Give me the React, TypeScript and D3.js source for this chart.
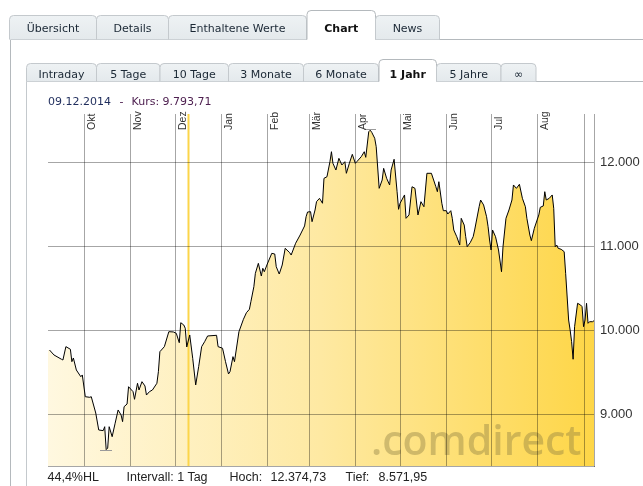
import React from "react";
import * as d3 from "d3";

// ---- data ----
const dates = [
  "2014-09-08","2014-09-11","2014-09-16","2014-09-17","2014-09-19","2014-09-22","2014-09-23","2014-09-24","2014-09-26","2014-09-29","2014-09-30",
  "2014-10-02","2014-10-05","2014-10-06","2014-10-09","2014-10-11","2014-10-14","2014-10-15","2014-10-16","2014-10-17","2014-10-18","2014-10-20",
  "2014-10-22","2014-10-24","2014-10-26","2014-10-27","2014-10-28","2014-10-30","2014-10-31",
  "2014-11-03","2014-11-04","2014-11-06","2014-11-07","2014-11-09","2014-11-11","2014-11-12","2014-11-14","2014-11-16","2014-11-19","2014-11-20",
  "2014-11-21","2014-11-24","2014-11-27","2014-11-30",
  "2014-12-02","2014-12-04","2014-12-05","2014-12-07","2014-12-08","2014-12-09","2014-12-11","2014-12-13","2014-12-15","2014-12-17","2014-12-19",
  "2014-12-21","2014-12-23","2014-12-29","2014-12-30",
  "2015-01-02","2015-01-04","2015-01-06","2015-01-07","2015-01-09","2015-01-10","2015-01-13","2015-01-16","2015-01-18","2015-01-20","2015-01-21",
  "2015-01-23","2015-01-24","2015-01-26","2015-01-28","2015-01-29","2015-01-30",
  "2015-02-01","2015-02-04","2015-02-06","2015-02-07","2015-02-09","2015-02-11","2015-02-13","2015-02-16","2015-02-17","2015-02-20","2015-02-23",
  "2015-02-26","2015-02-27","2015-02-28",
  "2015-03-02","2015-03-03","2015-03-05","2015-03-06","2015-03-08","2015-03-10","2015-03-11","2015-03-13","2015-03-15","2015-03-16","2015-03-17",
  "2015-03-19","2015-03-21","2015-03-23","2015-03-25","2015-03-26","2015-03-28","2015-03-30",
  "2015-04-01","2015-04-02","2015-04-05","2015-04-07","2015-04-08","2015-04-10","2015-04-11","2015-04-12","2015-04-14","2015-04-15","2015-04-17",
  "2015-04-19","2015-04-20","2015-04-22","2015-04-24","2015-04-25","2015-04-27","2015-04-29","2015-04-30",
  "2015-05-01","2015-05-04","2015-05-05","2015-05-07","2015-05-09","2015-05-11","2015-05-13","2015-05-15","2015-05-17","2015-05-18","2015-05-19",
  "2015-05-22","2015-05-25","2015-05-26","2015-05-27","2015-05-29","2015-05-30",
  "2015-06-01","2015-06-02","2015-06-04","2015-06-05","2015-06-06","2015-06-08","2015-06-10","2015-06-11","2015-06-13","2015-06-14","2015-06-15",
  "2015-06-17","2015-06-19","2015-06-20","2015-06-23","2015-06-24","2015-06-26","2015-06-28","2015-06-29","2015-06-30",
  "2015-07-01","2015-07-02","2015-07-04","2015-07-06","2015-07-08","2015-07-09","2015-07-11","2015-07-13","2015-07-15","2015-07-16","2015-07-18",
  "2015-07-20","2015-07-22","2015-07-24","2015-07-25","2015-07-27","2015-07-28","2015-07-30",
  "2015-08-02","2015-08-03","2015-08-05","2015-08-06","2015-08-07","2015-08-09","2015-08-11","2015-08-12","2015-08-13","2015-08-14","2015-08-15",
  "2015-08-17","2015-08-19","2015-08-20","2015-08-22","2015-08-23","2015-08-24","2015-08-25","2015-08-26","2015-08-28","2015-08-30","2015-08-31",
  "2015-09-01","2015-09-02","2015-09-03","2015-09-04","2015-09-05","2015-09-07","2015-09-08",
];
const closes = [
  9758, 9699, 9648, 9639, 9798, 9767, 9619, 9663, 9520, 9440, 9461,
  9202, 9195, 9202, 9008, 8806, 8798, 8845, 8572, 8590, 8845, 8726,
  8886, 9044, 8984, 8905, 9083, 9115, 9321,
  9262, 9171, 9362, 9282, 9381, 9330, 9222, 9262, 9282, 9362, 9500,
  9738, 9798, 9976, 9973,
  9957, 9845, 10083, 10056, 10017, 9794, 9937, 9659, 9342, 9560, 9798,
  9857, 9925, 9933, 9798,
  9779, 9619, 9473, 9500, 9679, 9619, 9976, 10124, 10202, 10243, 10333,
  10512, 10671, 10790, 10639, 10731, 10690,
  10782, 10909, 10901, 10750, 10663, 10770, 10969, 10917, 10889, 11029, 11127,
  11235, 11345, 11401,
  11405, 11286, 11425, 11524, 11564, 11505, 11802, 11821, 12000, 12119, 11981,
  11901, 12040, 11961, 12000, 11862, 11981, 12088,
  11981, 12000, 12060, 12119, 12052, 12357, 12375, 12350, 12279, 12179, 11683,
  11782, 11921, 11802, 11723, 11901, 12029, 11643, 11433,
  11505, 11604, 11326, 11366, 11702, 11683, 11366, 11524, 11464, 11663, 11862,
  11862, 11702, 11643, 11762, 11505, 11417,
  11417, 11377, 11417, 11326, 11187, 11107, 11008, 11326, 11246, 11107, 10988,
  11036, 11107, 11187, 11464, 11544, 11485, 11345, 11226, 11068,
  10949, 11187, 11107, 10949, 10690, 10988, 11326, 11425, 11544, 11723, 11683,
  11731, 11564, 11464, 11326, 11127, 11060, 11207,
  11366, 11457, 11473, 11643, 11544, 11564, 11604, 11445, 10988, 11008, 10969,
  10957, 10929, 10671, 10115, 9996, 9857, 9648, 10036, 10314, 10294, 10274,
  10036, 10115, 10314, 10076, 10095, 10095, 10107,
];

const xDomain = ["2014-09-07", "2015-09-08"];
const yDomain = [8377, 12568];
const yTicks = [9000, 10000, 11000, 12000];
const yTickLabels = ["9.000", "10.000", "11.000", "12.000"];
const monthTicks = [
  "2014-10-01","2014-11-01","2014-12-01","2015-01-01","2015-02-01","2015-03-01",
  "2015-04-01","2015-05-01","2015-06-01","2015-07-01","2015-08-01","2015-09-01",
];
const monthLabels = ["Okt","Nov","Dez","Jan","Feb","Mär","Apr","Mai","Jun","Jul","Aug",""];

const crosshairDate = "2014-12-10";
const headerDate = "09.12.2014";
const headerKurs = "Kurs: 9.793,71";

const mainTabs = ["Übersicht", "Details", "Enthaltene Werte", "Chart", "News"];
const mainActive = 3;
const rangeTabs = ["Intraday", "5 Tage", "10 Tage", "3 Monate", "6 Monate", "1 Jahr", "5 Jahre", "∞"];
const rangeActive = 5;

const footerPerf = "44,4%HL";
const footerInterval = "Intervall: 1 Tag";
const footerHighLabel = "Hoch:";
const footerHigh = "12.374,73";
const footerLowLabel = "Tief:";
const footerLow = "8.571,95";
const watermark = ".comdirect";

// ---- layout / style ----
const W = 643;
const H = 486;
const plot = { left: 48, right: 594, top: 114, bottom: 466 };
const mainTabEdges = [9.5, 96.5, 168.5, 306.5, 375.5, 439.5];
const rangeTabEdges = [26.5, 96.5, 160, 228.5, 303.5, 378.5, 436.5, 501, 536];
const fillStops = ["#fff8e0", "#fee9a2", "#fed647"];
const GRID = "#a6a6a6";

const SANS = "'DejaVu Sans', Verdana, sans-serif";
const ARIAL = "'Liberation Sans', Arial, Helvetica, sans-serif";
const MULT = { mixBlendMode: "multiply" as const };

function tabPath(x0: number, x1: number, top: number, bottom: number, r = 4) {
  return `M${x0},${bottom} V${top + r} Q${x0},${top} ${x0 + r},${top} H${x1 - r} Q${x1},${top} ${x1},${top + r} V${bottom}`;
}

function Tabs({ labels, edges, active, top, activeTop, bottom, baseline, lineStart }: any) {
  const items: any[] = [];
  labels.forEach((lab: string, i: number) => {
    let x0 = edges[i];
    const x1 = edges[i + 1];
    if (i === active) x0 += 0.5;
    const isA = i === active;
    items.push(
      <g key={lab}>
        <path
          d={tabPath(x0, x1, isA ? activeTop : top, bottom)}
          fill={isA ? "#ffffff" : "url(#tabFill)"}
          stroke={isA ? "#b4b9bd" : "#c4c9cd"}
          strokeWidth={1}
        />
        <text
          x={(x0 + x1) / 2}
          y={baseline}
          textAnchor="middle"
          fontFamily={SANS}
          fontSize={11}
          fontWeight={isA ? "bold" : "normal"}
          fill={isA ? "#111111" : "#1a2734"}
        >
          {lab}
        </text>
      </g>
    );
  });
  const ax0 = edges[active] + 0.5;
  const ax1 = edges[active + 1];
  return (
    <g>
      <line x1={lineStart} x2={ax0} y1={bottom} y2={bottom} stroke="#b4b9bd" />
      <line x1={ax1} x2={W} y1={bottom} y2={bottom} stroke="#b4b9bd" />
      {items}
    </g>
  );
}

export default function App() {
  const parse = d3.utcParse("%Y-%m-%d");
  const data = dates.map((d, i) => ({ date: parse(d) as Date, value: closes[i] }));

  const x = d3
    .scaleUtc()
    .domain([parse(xDomain[0]) as Date, parse(xDomain[1]) as Date])
    .range([plot.left, plot.right]);
  const y = d3.scaleLinear().domain(yDomain).range([plot.bottom, plot.top]);

  const area = d3
    .area<{ date: Date; value: number }>()
    .x((d) => x(d.date))
    .y0(plot.bottom)
    .y1((d) => y(d.value));
  const line = d3
    .line<{ date: Date; value: number }>()
    .x((d) => x(d.date))
    .y((d) => y(d.value));

  const areaData = [{ date: x.domain()[0], value: data[0].value }, ...data];
  const areaD = area(areaData) || "";

  const minD = data.reduce((a, b) => (b.value < a.value ? b : a));
  const maxD = data.reduce((a, b) => (b.value > a.value ? b : a));

  const pxr = (v: number) => Math.round(v) + 0.5;
  const crossX = Math.round(x(parse(crosshairDate) as Date)) + 0.5;

  return (
    <svg
      width={W}
      height={H}
      viewBox={`0 0 ${W} ${H}`}
      style={{ position: "absolute", left: 0, top: 0, background: "#fff" }}
    >
      <defs>
        <linearGradient id="areaFill" x1={plot.left} x2={plot.right} y1={0} y2={0} gradientUnits="userSpaceOnUse">
          <stop offset="0" stopColor={fillStops[0]} />
          <stop offset="0.5" stopColor={fillStops[1]} />
          <stop offset="1" stopColor={fillStops[2]} />
        </linearGradient>
        <linearGradient id="tabFill" x1={0} x2={0} y1={0} y2={1}>
          <stop offset="0" stopColor="#eef2f4" />
          <stop offset="1" stopColor="#e4e9ec" />
        </linearGradient>
      </defs>
      <rect x={0} y={0} width={W} height={H} fill="#ffffff" />

      {/* container borders */}
      <line x1={10.5} x2={10.5} y1={39.5} y2={H} stroke="#b4b9bd" />
      <line x1={26.5} x2={26.5} y1={81.5} y2={H} stroke="#c4c9cd" />

      <Tabs
        labels={mainTabs}
        edges={mainTabEdges}
        active={mainActive}
        top={15.5}
        activeTop={10.5}
        bottom={39.5}
        baseline={31.5}
        lineStart={10.5}
      />
      <Tabs
        labels={rangeTabs}
        edges={rangeTabEdges}
        active={rangeActive}
        top={63.5}
        activeTop={59.5}
        bottom={81.5}
        baseline={77.5}
        lineStart={26.5}
      />

      {/* header */}
      <text x={48} y={105} fontFamily={SANS} fontSize={11} fill="#1f2d5c">
        {headerDate}
      </text>
      <text x={119.5} y={105} fontFamily={SANS} fontSize={11} fill="#4e2050">
        -
      </text>
      <text x={131.5} y={105} fontFamily={SANS} fontSize={11} fill="#4e2050">
        {headerKurs}
      </text>

      {/* area */}
      <path d={areaD} fill="url(#areaFill)" />

      {/* watermark */}
      <text
        x={371}
        y={455}
        fontFamily="'Open Sans', 'Noto Sans', sans-serif"
        fontWeight={600}
        fontSize={41}
        fill="#8a7a40"
        fillOpacity={0.4}
      >
        {watermark}
      </text>

      {/* crosshair */}
      <line x1={crossX} x2={crossX} y1={plot.top} y2={plot.bottom} stroke="#fcd54a" strokeWidth={2} />

      {/* grid (multiplied onto the fill) */}
      <g shapeRendering="crispEdges">
        {yTicks.map((t) => (
          <line key={t} style={MULT} x1={plot.left} x2={plot.right} y1={pxr(y(t))} y2={pxr(y(t))} stroke={GRID} />
        ))}
        {monthTicks.map((m) => {
          const gx = pxr(x(parse(m) as Date));
          return <line key={m} style={MULT} x1={gx} x2={gx} y1={plot.top} y2={plot.bottom} stroke={GRID} />;
        })}
        <line style={MULT} x1={pxr(plot.right)} x2={pxr(plot.right)} y1={plot.top} y2={plot.bottom + 0.5} stroke={GRID} />
        <line style={MULT} x1={plot.left} x2={pxr(plot.right)} y1={pxr(plot.bottom)} y2={pxr(plot.bottom)} stroke={GRID} />
      </g>

      {/* min / max markers */}
      <line
        x1={x(minD.date) - 6}
        x2={x(minD.date) + 6}
        y1={pxr(y(minD.value))}
        y2={pxr(y(minD.value))}
        stroke="#9a9a9a"
        shapeRendering="crispEdges"
      />
      <line
        x1={x(maxD.date) - 6}
        x2={x(maxD.date) + 6}
        y1={pxr(y(maxD.value)) - 1}
        y2={pxr(y(maxD.value)) - 1}
        stroke="#9a9a9a"
        shapeRendering="crispEdges"
      />

      {/* price line */}
      <path d={line(data) || ""} fill="none" stroke="#000000" strokeWidth={1} strokeLinejoin="miter" />

      {/* month labels */}
      {monthTicks.map((m, i) => {
        const gx = pxr(x(parse(m) as Date));
        return (
          <text
            key={m}
            transform={`translate(${gx + 10.5},130) rotate(-90)`}
            fontFamily={ARIAL}
            fontSize={10.5}
            fill="#333333"
          >
            {monthLabels[i]}
          </text>
        );
      })}

      {/* y labels */}
      {yTicks.map((t, i) => (
        <text key={t} x={600} y={y(t) + 4.5} fontFamily={ARIAL} fontSize={13} fill="#333333">
          {yTickLabels[i]}
        </text>
      ))}

      {/* footer */}
      <g fontFamily={ARIAL} fontSize={12.5} fill="#222222">
        <text x={47.5} y={481}>{footerPerf}</text>
        <text x={126.5} y={481}>{footerInterval}</text>
        <text x={229.5} y={481}>{footerHighLabel}</text>
        <text x={270.5} y={481}>{footerHigh}</text>
        <text x={345.5} y={481}>{footerLowLabel}</text>
        <text x={378.5} y={481}>{footerLow}</text>
      </g>
    </svg>
  );
}
